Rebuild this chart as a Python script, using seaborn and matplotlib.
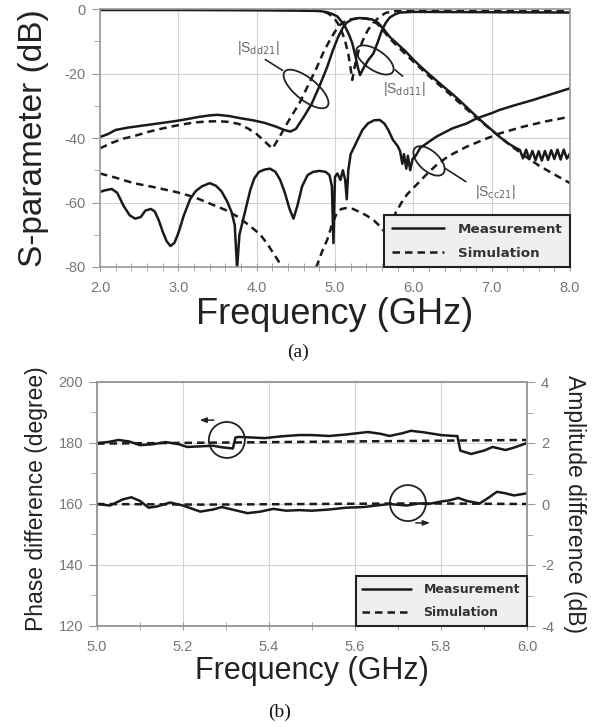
import numpy as np
import pandas as pd
import matplotlib
matplotlib.use("Agg")
import matplotlib.pyplot as plt
import seaborn as sns
from matplotlib.patches import Ellipse
from matplotlib.lines import Line2D
from matplotlib.transforms import ScaledTranslation
from matplotlib.ticker import MultipleLocator, FormatStrFormatter

# ---------------- Panel (a) data ----------------
f_dd21_meas = [2.0, 2.1, 2.2, 2.35, 2.5, 2.65, 2.8, 2.95, 3.1, 3.25,
               3.4, 3.5, 3.65, 3.8, 3.95, 4.1, 4.25, 4.35, 4.43, 4.5,
               4.6, 4.7, 4.8, 4.9, 4.97, 5.04, 5.1, 5.15, 5.22, 5.3,
               5.4, 5.48, 5.55, 5.62, 5.7, 5.8, 5.9, 6.0, 6.1, 6.2,
               6.3, 6.4, 6.5, 6.6, 6.7, 6.8, 6.9, 7.0, 7.1, 7.2,
               7.3, 7.36, 7.4, 7.44, 7.48, 7.52, 7.56, 7.6, 7.64, 7.68,
               7.72, 7.76, 7.8, 7.84, 7.88, 7.92, 7.96, 8.0]
s_dd21_meas = [-39.7, -38.8, -37.5, -36.8, -36.3, -35.8, -35.3, -34.8, -34.2, -33.5,
               -33.0, -32.8, -33.2, -33.9, -34.5, -35.3, -36.5, -37.5, -38.0, -37.2,
               -33.5, -29.5, -24.0, -18.0, -13.0, -8.7, -5.8, -4.2, -3.2, -2.8,
               -2.9, -3.3, -4.3, -6.2, -8.7, -10.9, -13.1, -15.7, -18.0, -20.2,
               -22.3, -24.4, -26.4, -28.6, -30.9, -33.2, -35.4, -37.5, -39.6, -41.5,
               -43.0, -43.7, -46.3, -43.6, -46.6, -44.0, -46.9, -44.1, -47.0, -44.0,
               -46.8, -43.8, -46.5, -43.6, -46.7, -43.6, -46.4, -44.8]

f_dd21_sim = [2.0, 2.15, 2.3, 2.45, 2.6, 2.75, 2.9, 3.05, 3.2, 3.35,
              3.5, 3.65, 3.78, 3.9, 4.0, 4.1, 4.2, 4.27, 4.4, 4.55,
              4.66, 4.77, 4.86, 4.94, 5.0, 5.06, 5.13, 5.2, 5.3, 5.4,
              5.48, 5.55, 5.62, 5.7, 5.8, 5.9, 6.0, 6.2, 6.4, 6.6,
              6.8, 7.0, 7.2, 7.4, 7.6, 7.8, 8.0]
s_dd21_sim = [-43.2, -41.5, -40.2, -39.3, -38.2, -37.3, -36.5, -35.8, -35.2, -34.9,
              -34.8, -35.0, -35.7, -37.2, -38.8, -41.0, -43.3, -40.6, -35.0, -29.0,
              -23.5, -18.0, -13.0, -9.4, -7.0, -5.0, -3.8, -3.2, -2.9, -3.0,
              -3.5, -4.8, -6.8, -9.2, -11.6, -14.0, -16.3, -20.8, -25.0, -29.3,
              -33.6, -37.6, -41.5, -45.2, -48.5, -51.3, -54.0]

f_dd11_meas = [2.0, 3.0, 4.0, 4.5, 4.8, 4.9, 4.97, 5.03, 5.08, 5.13,
               5.18, 5.22, 5.26, 5.29, 5.32, 5.36, 5.42, 5.49, 5.55, 5.6,
               5.65, 5.7, 5.77, 5.83, 6.0, 7.0, 8.0]
s_dd11_meas = [-0.3, -0.3, -0.4, -0.5, -0.6, -1.0, -1.6, -2.3, -3.8, -5.5,
               -8.0, -10.6, -14.5, -18.0, -20.5, -18.5, -16.0, -13.8, -10.0, -6.5,
               -4.2, -2.6, -1.6, -1.1, -0.9, -1.0, -1.1]

f_dd11_sim = [2.0, 3.0, 4.0, 4.5, 4.8, 4.9, 4.97, 5.03, 5.08, 5.13,
              5.17, 5.2, 5.22, 5.25, 5.3, 5.36, 5.42, 5.5, 5.58, 5.65,
              5.75, 5.9, 7.0, 8.0]
s_dd11_sim = [-0.2, -0.2, -0.2, -0.3, -0.6, -1.2, -2.3, -4.2, -6.5, -10.0,
              -14.0, -18.5, -22.0, -18.0, -13.0, -9.5, -6.5, -4.0, -2.2, -1.2,
              -0.7, -0.5, -0.6, -0.7]

f_cc21_meas = [2.0, 2.07, 2.15, 2.22, 2.3, 2.38, 2.45, 2.52, 2.58, 2.65,
               2.7, 2.75, 2.8, 2.85, 2.9, 2.95, 3.0, 3.07, 3.15, 3.22,
               3.3, 3.4, 3.48, 3.55, 3.62, 3.68, 3.72, 3.75, 3.78, 3.82,
               3.87, 3.92, 3.97, 4.03, 4.1, 4.17, 4.24, 4.3, 4.36, 4.42,
               4.47, 4.52, 4.58, 4.65, 4.72, 4.8, 4.88, 4.93, 4.96, 4.98,
               5.0, 5.03, 5.07, 5.1, 5.13, 5.15, 5.17, 5.2, 5.25, 5.3,
               5.35, 5.42, 5.5, 5.57, 5.63, 5.68, 5.74, 5.8, 5.83, 5.86,
               5.88, 5.91, 5.93, 5.96, 5.99, 6.03, 6.09, 6.18, 6.3, 6.5,
               6.68, 6.81, 7.0, 7.1, 7.3, 7.53, 7.75, 8.0]
s_cc21_meas = [-56.7, -56.2, -55.8, -57.0, -61.0, -64.0, -65.0, -64.5, -62.5, -62.0,
               -62.8, -65.5, -69.0, -72.0, -73.5, -72.5, -69.5, -64.0, -59.0, -56.5,
               -55.0, -54.0, -54.8, -56.5, -59.5, -63.0, -67.0, -80.5, -70.0, -66.0,
               -61.0, -56.0, -52.5, -50.5, -49.8, -49.5, -50.5, -53.0, -57.0, -62.0,
               -65.0, -61.0, -55.0, -51.5, -50.5, -50.2, -50.5, -51.5, -55.0, -72.6,
               -52.0, -51.0, -53.0, -50.0, -53.0, -59.0, -50.0, -45.0, -42.5, -40.0,
               -37.5, -35.5, -34.5, -34.4, -35.5, -37.5, -40.6, -42.5, -44.0, -48.0,
               -45.0, -49.5, -45.5, -50.0, -46.5, -45.5, -43.0, -41.5, -39.5, -37.0,
               -35.5, -33.9, -32.3, -31.3, -29.8, -28.2, -26.5, -24.6]

f_cc21_sim = [2.0, 2.2, 2.43, 2.7, 2.98, 3.2, 3.4, 3.6, 3.75, 3.9,
              4.04, 4.13, 4.22, 4.3, 4.36, 4.45, 4.55, 4.65, 4.72, 4.77,
              4.83, 4.9, 4.96, 5.02, 5.08, 5.15, 5.23, 5.32, 5.4, 5.49,
              5.55, 5.61, 5.68, 5.72, 5.77, 5.85, 5.92, 6.0, 6.1, 6.2,
              6.3, 6.45, 6.68, 6.9, 7.1, 7.4, 7.7, 8.0]
s_cc21_sim = [-51.0, -52.3, -54.0, -55.3, -56.8, -58.3, -60.3, -62.3, -64.3, -67.0,
              -69.8, -72.6, -76.0, -79.0, -81.0, -86.0, -88.0, -85.0, -81.5, -79.5,
              -75.5, -71.6, -67.0, -63.4, -62.0, -61.7, -62.0, -63.0, -64.0, -65.4,
              -66.8, -68.5, -70.0, -68.0, -63.4, -60.0, -57.5, -55.5, -53.0, -50.5,
              -48.3, -45.6, -42.7, -40.5, -38.6, -36.5, -34.8, -33.4]

xticks_a = [2.0, 3.0, 4.0, 5.0, 6.0, 7.0, 8.0]
yticks_a = [-80, -60, -40, -20, 0]

# ---------------- Panel (b) data ----------------
f_phase_meas = [5.0, 5.025, 5.05, 5.075, 5.1, 5.13, 5.16, 5.19, 5.21, 5.24,
                5.27, 5.29, 5.31, 5.316, 5.322, 5.33, 5.36, 5.39, 5.43, 5.47,
                5.5, 5.54, 5.58, 5.63, 5.66, 5.68, 5.71, 5.73, 5.76, 5.8,
                5.83, 5.838, 5.845, 5.87, 5.9, 5.92, 5.95, 5.97, 6.0]
phase_meas = [180.0, 180.3, 181.0, 180.5, 179.3, 179.6, 180.3, 179.6, 178.7, 178.9,
              179.1, 178.6, 178.3, 178.2, 181.8, 182.0, 181.8, 181.6, 182.2, 182.6,
              182.6, 182.3, 182.8, 183.6, 183.0, 182.3, 183.2, 184.0, 183.5, 182.6,
              182.3, 182.3, 177.5, 176.4, 177.5, 178.7, 177.7, 178.5, 180.0]
f_phase_sim = [5.0, 5.25, 5.5, 5.75, 6.0]
phase_sim = [179.8, 180.1, 180.4, 180.7, 181.0]

f_amp_meas = [5.0, 5.03, 5.06, 5.08, 5.1, 5.12, 5.14, 5.17, 5.2, 5.24,
              5.27, 5.29, 5.32, 5.35, 5.38, 5.41, 5.44, 5.47, 5.5, 5.54,
              5.58, 5.62, 5.65, 5.68, 5.72, 5.75, 5.77, 5.8, 5.82, 5.84,
              5.86, 5.89, 5.91, 5.93, 5.95, 5.97, 6.0]
amp_meas = [0.0, -0.05, 0.15, 0.22, 0.1, -0.12, -0.08, 0.05, -0.05, -0.25,
            -0.18, -0.1, -0.2, -0.3, -0.25, -0.16, -0.22, -0.2, -0.22, -0.18,
            -0.12, -0.1, -0.05, 0.0, -0.05, 0.02, 0.0, 0.08, 0.12, 0.2,
            0.1, 0.02, 0.2, 0.4, 0.35, 0.28, 0.35]
f_amp_sim = [5.0, 5.25, 5.5, 5.75, 6.0]
amp_sim = [0.0, -0.02, 0.0, 0.02, 0.0]

xticks_b = [5.0, 5.2, 5.4, 5.6, 5.8, 6.0]
yticks_b_left = [120, 140, 160, 180, 200]
yticks_b_right = [-4, -2, 0, 2, 4]

legend_labels = ["Measurement", "Simulation"]

# ---------------- Style ----------------
sns.set_style("white")
plt.rcParams['font.family'] = ['Liberation Sans', 'DejaVu Sans']
plt.rcParams['axes.unicode_minus'] = False
plt.rcParams['mathtext.fontset'] = 'dejavusans'

LINE_C = '#1a1a1a'
LW = 1.8
DASH = (0, (3, 2))
GRID_C = '#d4d4d4'
SPINE_C = '#9a9a9a'
TICKLAB_C = '#777777'

fig = plt.figure(figsize=(5.97, 7.27), dpi=100)


def draw(ax, f, v, dashed):
    df = pd.DataFrame({'freq': f, 'val': v})
    sns.lineplot(data=df, x='freq', y='val', ax=ax, color=LINE_C, lw=LW,
                 linestyle=DASH if dashed else '-', estimator=None,
                 sort=False, legend=False)


def ellipse(ax, x, y, w_px, h_px, ang, lw=1.3):
    tr = fig.dpi_scale_trans + ScaledTranslation(x, y, ax.transData)
    e = Ellipse((0, 0), w_px / 100.0, h_px / 100.0, angle=ang, transform=tr,
                fill=False, ec='#222222', lw=lw)
    ax.add_artist(e)


def style_axes(ax):
    for s in ax.spines.values():
        s.set_color(SPINE_C)
        s.set_linewidth(1.2)
    ax.grid(True, which='major', color=GRID_C, lw=0.8)
    ax.set_axisbelow(True)


# ---------------- Panel (a) ----------------
ax_a = fig.add_axes([100 / 597, 1 - 267 / 727, 470 / 597, 258 / 727])
draw(ax_a, f_dd11_meas, s_dd11_meas, False)
draw(ax_a, f_dd11_sim, s_dd11_sim, True)
draw(ax_a, f_dd21_meas, s_dd21_meas, False)
draw(ax_a, f_dd21_sim, s_dd21_sim, True)
draw(ax_a, f_cc21_meas, s_cc21_meas, False)
draw(ax_a, f_cc21_sim, s_cc21_sim, True)

ax_a.set_xlim(2.0, 8.0)
ax_a.set_ylim(-80, 0)
ax_a.set_xticks(xticks_a)
ax_a.set_yticks(yticks_a)
ax_a.xaxis.set_minor_locator(MultipleLocator(0.2))
ax_a.yaxis.set_minor_locator(MultipleLocator(10))
ax_a.xaxis.set_major_formatter(FormatStrFormatter('%.1f'))
ax_a.yaxis.set_major_formatter(FormatStrFormatter('%d'))
style_axes(ax_a)
ax_a.tick_params(axis='x', which='both', direction='inout', length=6,
                 color=SPINE_C, labelcolor=TICKLAB_C, labelsize=10.5, pad=7,
                 bottom=True)
ax_a.tick_params(axis='y', which='major', direction='out', length=6,
                 color=SPINE_C, labelcolor=TICKLAB_C, labelsize=10.5, pad=4,
                 left=True)
ax_a.tick_params(axis='y', which='minor', direction='out', length=4,
                 color=SPINE_C, left=True)
ax_a.set_xlabel("Frequency (GHz)", fontsize=26, color='#222222')
ax_a.set_ylabel("S-parameter (dB)", fontsize=24, color='#222222')
ax_a.xaxis.set_label_coords(0.5, -0.115)
ax_a.yaxis.set_label_coords(-0.108, 0.5)

leg_handles = [Line2D([], [], color=LINE_C, lw=LW, ls='-'),
               Line2D([], [], color=LINE_C, lw=LW, ls=DASH)]


def add_legend(ax, size):
    leg = ax.legend(leg_handles, legend_labels, loc='lower right',
                    bbox_to_anchor=(1.0, 0.0), borderaxespad=0.0,
                    frameon=True, fancybox=False, framealpha=1.0,
                    facecolor='#efefef', edgecolor='#222222',
                    prop={'size': size, 'weight': 'bold', 'family': 'DejaVu Sans'},
                    handlelength=3.9, handletextpad=1.0, labelspacing=0.8,
                    borderpad=0.55)
    leg.get_frame().set_linewidth(1.5)
    for t in leg.get_texts():
        t.set_color('#333333')
    return leg


add_legend(ax_a, 9.7)

# annotations panel (a)
lab_kw = dict(fontsize=10, color='#666666')
ellipse(ax_a, 4.63, -24.8, 55, 22, -39)
ax_a.annotate('', xy=(4.36, -19.5), xytext=(4.08, -15.2),
              arrowprops=dict(arrowstyle='-', color='#222222', lw=1.2))
ax_a.text(3.75, -12.1, r'|S$_{\mathrm{dd21}}$|', ha='left', va='center', **lab_kw)

ellipse(ax_a, 5.51, -15.8, 43, 20, -34)
ax_a.annotate('', xy=(5.89, -21.4), xytext=(5.74, -18.3),
              arrowprops=dict(arrowstyle='-', color='#222222', lw=1.2))
ax_a.text(5.61, -24.8, r'|S$_{\mathrm{dd11}}$|', ha='left', va='center', **lab_kw)

ellipse(ax_a, 6.2, -47.1, 38, 20, -42)
ax_a.annotate('', xy=(6.7, -54.0), xytext=(6.38, -49.0),
              arrowprops=dict(arrowstyle='-', color='#222222', lw=1.2))
ax_a.text(6.79, -56.7, r'|S$_{\mathrm{cc21}}$|', ha='left', va='center', **lab_kw)

fig.text(298 / 597, 1 - 352 / 727, "(a)", ha='center', va='center',
         fontsize=14, family=['Liberation Serif', 'DejaVu Serif'], color='#111111')

# ---------------- Panel (b) ----------------
ax_b = fig.add_axes([97 / 597, 1 - 626 / 727, 430 / 597, 244 / 727])
ax_b2 = ax_b.twinx()
draw(ax_b, f_phase_sim, phase_sim, True)
draw(ax_b, f_phase_meas, phase_meas, False)
draw(ax_b2, f_amp_sim, amp_sim, True)
draw(ax_b2, f_amp_meas, amp_meas, False)

ax_b.set_xlim(5.0, 6.0)
ax_b.set_ylim(120, 200)
ax_b2.set_ylim(-4, 4)
ax_b.set_xticks(xticks_b)
ax_b.set_yticks(yticks_b_left)
ax_b2.set_yticks(yticks_b_right)
ax_b.xaxis.set_minor_locator(MultipleLocator(0.1))
ax_b.yaxis.set_minor_locator(MultipleLocator(10))
ax_b2.yaxis.set_minor_locator(MultipleLocator(1))
ax_b.xaxis.set_major_formatter(FormatStrFormatter('%.1f'))
ax_b.yaxis.set_major_formatter(FormatStrFormatter('%d'))
ax_b2.yaxis.set_major_formatter(FormatStrFormatter('%d'))
style_axes(ax_b)
for s in ax_b2.spines.values():
    s.set_color(SPINE_C)
    s.set_linewidth(1.2)
ax_b.tick_params(axis='x', which='both', direction='inout', length=6,
                 color=SPINE_C, labelcolor=TICKLAB_C, labelsize=10.5, pad=7,
                 bottom=True)
ax_b.tick_params(axis='y', which='major', direction='out', length=6,
                 color=SPINE_C, labelcolor=TICKLAB_C, labelsize=10.5, pad=4,
                 left=True)
ax_b.tick_params(axis='y', which='minor', direction='out', length=4,
                 color=SPINE_C, left=True)
ax_b2.tick_params(axis='y', which='major', direction='out', length=6,
                  color=SPINE_C, labelcolor=TICKLAB_C, labelsize=10.5, pad=4,
                  right=True)
ax_b2.tick_params(axis='y', which='minor', direction='out', length=4,
                  color=SPINE_C, right=True)
ax_b.set_xlabel("Frequency (GHz)", fontsize=22, color='#222222')
ax_b.set_ylabel("Phase difference (degree)", fontsize=16.5, color='#222222')
ax_b2.set_ylabel("Amplitude difference (dB)", fontsize=16.5, color='#222222',
                 rotation=270, va='bottom')
ax_b.xaxis.set_label_coords(0.5, -0.125)
ax_b.yaxis.set_label_coords(-0.115, 0.52)
ax_b2.yaxis.set_label_coords(1.084, 0.5)

add_legend(ax_b2, 9.0)

# annotations panel (b)
ellipse(ax_b2, 5.302, 2.1, 36, 36, 0)
ax_b2.annotate('', xy=(5.232, 2.75), xytext=(5.278, 2.75),
               arrowprops=dict(arrowstyle='-|>,head_length=0.4,head_width=0.15',
                               color='#222222', lw=1.1))
ellipse(ax_b2, 5.723, 0.03, 36, 36, 0)
ax_b2.annotate('', xy=(5.781, -0.62), xytext=(5.735, -0.62),
               arrowprops=dict(arrowstyle='-|>,head_length=0.4,head_width=0.15',
                               color='#222222', lw=1.1))

fig.text(280 / 597, 1 - 712 / 727, "(b)", ha='center', va='center',
         fontsize=14, family=['Liberation Serif', 'DejaVu Serif'], color='#111111')

fig.savefig("out.png", dpi=100)
